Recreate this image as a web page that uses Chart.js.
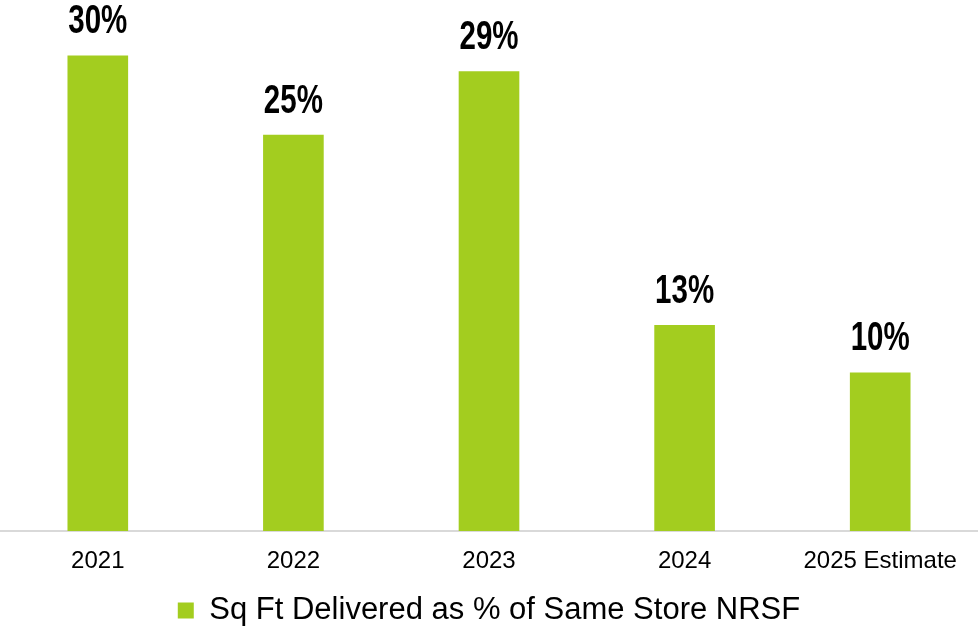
<!DOCTYPE html>
<html>
<head>
<meta charset="utf-8">
<script src="https://cdn.jsdelivr.net/npm/chart.js@4"></script>
<style>
  html, body { margin: 0; padding: 0; background: #fff; }
  #wrap { width: 978px; height: 629px; }
</style>
</head>
<body>
<div id="wrap"><canvas id="grafica"></canvas></div>
<script>
const categorias = ['2021', '2022', '2023', '2024', '2025 Estimate'];
const valores = [30, 25, 29, 13, 10];
const etiquetas = ['30%', '25%', '29%', '13%', '10%'];
const nombre_serie = 'Sq Ft Delivered as % of Same Store NRSF';

const verde = '#A3CD1F';

// etiquetas encima de cada barra, con letra estrecha
const etiquetasBarras = {
    id: 'etiquetasBarras',
    afterDatasetsDraw(chart) {
        const ctx = chart.ctx;
        const meta = chart.getDatasetMeta(0);
        ctx.save();
        ctx.fillStyle = '#000';
        ctx.font = 'bold 41px "Liberation Sans"';
        ctx.textAlign = 'center';
        ctx.textBaseline = 'alphabetic';
        meta.data.forEach((bar, i) => {
            ctx.save();
            ctx.translate(bar.x, bar.y - 22);
            ctx.scale(0.72, 1);
            ctx.fillText(etiquetas[i], 0, 0);
            ctx.restore();
        });
        ctx.restore();
    }
};

new Chart(document.getElementById('grafica').getContext('2d'), {
    type: 'bar',
    data: {
        labels: categorias,
        datasets: [{
            label: nombre_serie,
            data: valores,
            backgroundColor: verde,
            borderWidth: 0,
            categoryPercentage: 1.0,
            barPercentage: 0.31
        }]
    },
    options: {
        responsive: true,
        maintainAspectRatio: false,
        animation: false,
        layout: { padding: { top: 0, left: 0, right: 0, bottom: -7 } },
        scales: {
            y: {
                display: false,
                min: 0,
                max: 33.5
            },
            x: {
                grid: { display: false, drawTicks: false },
                border: { display: true, color: '#D9D9D9', width: 2 },
                ticks: {
                    color: '#000',
                    padding: 12,
                    font: { family: 'Liberation Sans', size: 24, lineHeight: 1.5 }
                },
                afterFit(scale) {
                    scale.height += 3;
                }
            }
        },
        plugins: {
            legend: {
                position: 'bottom',
                labels: {
                    color: '#000',
                    boxWidth: 16,
                    boxHeight: 16,
                    padding: 1,
                    font: { family: 'Liberation Sans', size: 31 }
                }
            },
            tooltip: { enabled: false }
        }
    },
    plugins: [etiquetasBarras]
});
</script>
</body>
</html>
